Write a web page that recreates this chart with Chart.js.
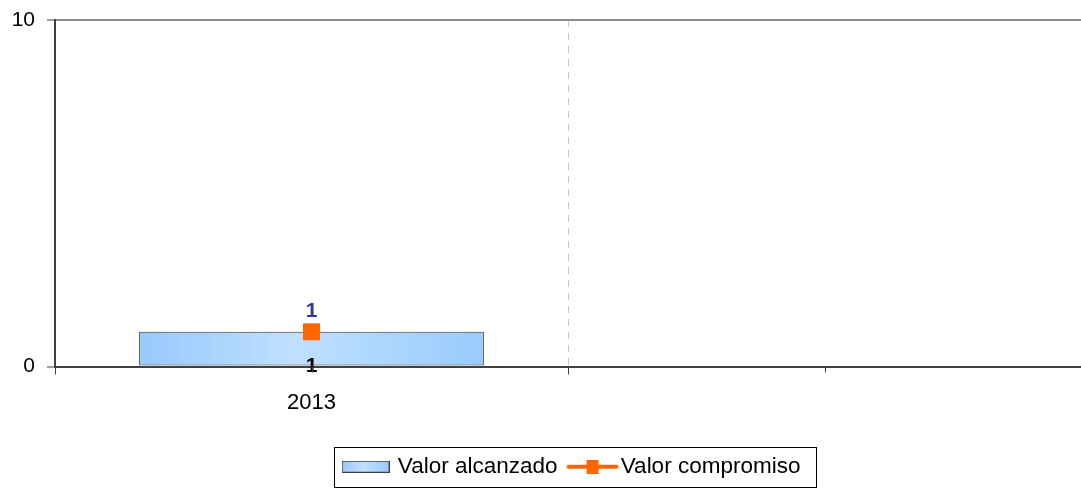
<!DOCTYPE html>
<html>
<head>
<meta charset="utf-8">
<script src="https://cdn.jsdelivr.net/npm/chart.js@4/dist/chart.umd.min.js"></script>
<style>
  html, body { margin: 0; padding: 0; background: #fff; }
  #wrap { width: 1081px; height: 489px; }
</style>
</head>
<body>
<div id="wrap"><canvas id="cv" width="1081" height="489"></canvas></div>
<script>
// datos
const categories = ["2013", ""];
const valorAlcanzado = [1, null];
const valorCompromiso = [1, null];
const yMin = 0, yMax = 10, yStep = 10;
const seriesNames = ["Valor alcanzado", "Valor compromiso"];

const FONT = "'Liberation Sans', Arial, sans-serif";
const ORANGE = "#ff6600";
const AXIS = "#404040";
const BAR_PCT = 0.672;
const LEGEND_SHIFT = 32;

// --- gradient for the bar ---
function barFill(ctx) {
  const chart = ctx.chart, xs = chart.scales.x;
  if (!xs || !chart.chartArea) return "#aad4ff";
  const i = ctx.dataIndex || 0;
  const w = xs.width / categories.length * BAR_PCT;
  const cx = xs.getPixelForValue(i);
  const g = chart.ctx.createLinearGradient(cx - w / 2, 0, cx + w / 2, 0);
  g.addColorStop(0, "#97c9fb");
  g.addColorStop(0.45, "#bfe0ff");
  g.addColorStop(1, "#99cbfc");
  return g;
}

// --- legend swatches ---
function swatchBar() {
  const c = document.createElement("canvas");
  c.width = 48; c.height = 12;
  const x = c.getContext("2d");
  const g = x.createLinearGradient(0, 0, 48, 0);
  g.addColorStop(0, "#97c9fb"); g.addColorStop(0.45, "#bfe0ff"); g.addColorStop(1, "#99cbfc");
  x.fillStyle = g; x.fillRect(0.5, 0.5, 47, 11);
  x.strokeStyle = AXIS; x.lineWidth = 1; x.strokeRect(0.5, 0.5, 47, 11);
  return c;
}
function swatchLine() {
  // drawn off-centre so the line runs close to its text
  const c = document.createElement("canvas");
  c.width = 64; c.height = 14;
  const x = c.getContext("2d");
  x.strokeStyle = ORANGE; x.lineWidth = 4; x.lineCap = "round";
  x.beginPath(); x.moveTo(12, 7); x.lineTo(60, 7); x.stroke();
  x.fillStyle = ORANGE; x.fillRect(30, 0, 12, 14);
  return c;
}

// --- plugins ---
const valueLabels = {
  id: "valueLabels",
  afterDatasetsDraw(chart) {
    const ctx = chart.ctx;
    ctx.save();
    ctx.font = "bold 21px " + FONT;
    ctx.textAlign = "center";
    ctx.textBaseline = "middle";
    chart.getDatasetMeta(0).data.forEach((el, i) => {
      if (valorAlcanzado[i] == null) return;
      ctx.fillStyle = "#000";
      ctx.fillText(String(valorAlcanzado[i]), el.x, el.base + 1);
    });
    chart.getDatasetMeta(1).data.forEach((el, i) => {
      if (valorCompromiso[i] == null) return;
      ctx.fillStyle = "#333399";
      ctx.fillText(String(valorCompromiso[i]), el.x, el.y - 21);
    });
    ctx.restore();
  }
};

const extras = {
  id: "extras",
  afterLayout(chart) {
    const lg = chart.legend;
    if (!lg) return;
    lg.left += LEGEND_SHIFT; lg.right += LEGEND_SHIFT;
  },
  afterDraw(chart) {
    const ctx = chart.ctx, xs = chart.scales.x;
    ctx.save();
    // small ticks at category centres
    ctx.strokeStyle = AXIS; ctx.lineWidth = 1;
    categories.forEach((c, i) => {
      const px = Math.round(xs.getPixelForValue(i)) + 0.5;
      ctx.beginPath(); ctx.moveTo(px, xs.top); ctx.lineTo(px, xs.top + 6); ctx.stroke();
    });
    // legend frame
    const boxes = chart.legend && chart.legend.legendHitBoxes;
    if (boxes && boxes.length) {
      const l = Math.min(...boxes.map(b => b.left)) - 11;
      const r = Math.max(...boxes.map(b => b.left + b.width)) + 15;
      const t = Math.min(...boxes.map(b => b.top));
      const b = Math.max(...boxes.map(b => b.top + b.height));
      const cy = (t + b) / 2;
      ctx.strokeStyle = "#000"; ctx.lineWidth = 1;
      ctx.strokeRect(Math.round(l) + 0.5, Math.round(cy - 20) + 0.5, Math.round(r - l), 40);
    }
    ctx.restore();
  }
};

new Chart(document.getElementById("cv"), {
  data: {
    labels: categories,
    datasets: [
      {
        type: "bar",
        label: seriesNames[0],
        data: valorAlcanzado,
        backgroundColor: barFill,
        borderColor: "#333",
        borderWidth: 1,
        borderSkipped: false,
        categoryPercentage: 1,
        barPercentage: BAR_PCT,
        order: 2
      },
      {
        type: "line",
        label: seriesNames[1],
        data: valorCompromiso,
        borderColor: ORANGE,
        backgroundColor: ORANGE,
        borderWidth: 4,
        pointStyle: "rect",
        pointRadius: 12,
        pointBorderWidth: 0,
        clip: false,
        order: 1
      }
    ]
  },
  options: {
    responsive: false,
    animation: false,
    layout: { autoPadding: false, padding: { top: 20, right: 0, bottom: 1, left: 0 } },
    plugins: {
      tooltip: { enabled: false },
      legend: {
        position: "bottom",
        labels: {
          font: { family: FONT, size: 22.5 },
          color: "#000",
          usePointStyle: true,
          pointStyleWidth: 42,
          padding: 10,
          generateLabels: () => [
            { text: seriesNames[0], pointStyle: swatchBar(), fillStyle: "#aad4ff", strokeStyle: AXIS, lineWidth: 0, datasetIndex: 0 },
            { text: seriesNames[1], pointStyle: swatchLine(), fillStyle: ORANGE, strokeStyle: ORANGE, lineWidth: 0, datasetIndex: 1 }
          ]
        }
      }
    },
    scales: {
      x: {
        type: "category",
        offset: true,
        afterFit: s => { s.height = 79; s.paddingRight = 0; s.paddingLeft = 0; s.paddingTop = 0; s.paddingBottom = 0; },
        grid: {
          offset: true,
          color: c => (c.index === 1 ? "#c8c8c8" : "rgba(0,0,0,0)"),
          lineWidth: 1,
          tickLength: 8,
          tickColor: AXIS,
          tickWidth: 1
        },
        border: { display: true, color: AXIS, width: 2, dash: [7, 6] },
        ticks: { font: { family: FONT, size: 22 }, color: "#000", padding: 15, maxRotation: 0 }
      },
      y: {
        min: yMin,
        max: yMax,
        afterFit: s => { s.width = 55; s.paddingTop = 0; s.paddingBottom = 0; s.paddingLeft = 0; s.paddingRight = 0; },
        grid: {
          color: c => (c.tick && c.tick.value === yMax ? "#8c8c8c" : "rgba(0,0,0,0)"),
          lineWidth: 2,
          tickLength: 8,
          tickColor: AXIS,
          tickWidth: 1
        },
        border: { display: true, color: AXIS, width: 2 },
        ticks: { stepSize: yStep, font: { family: FONT, size: 21 }, color: "#000", padding: 12 }
      }
    }
  },
  plugins: [valueLabels, extras]
});
</script>
</body>
</html>
